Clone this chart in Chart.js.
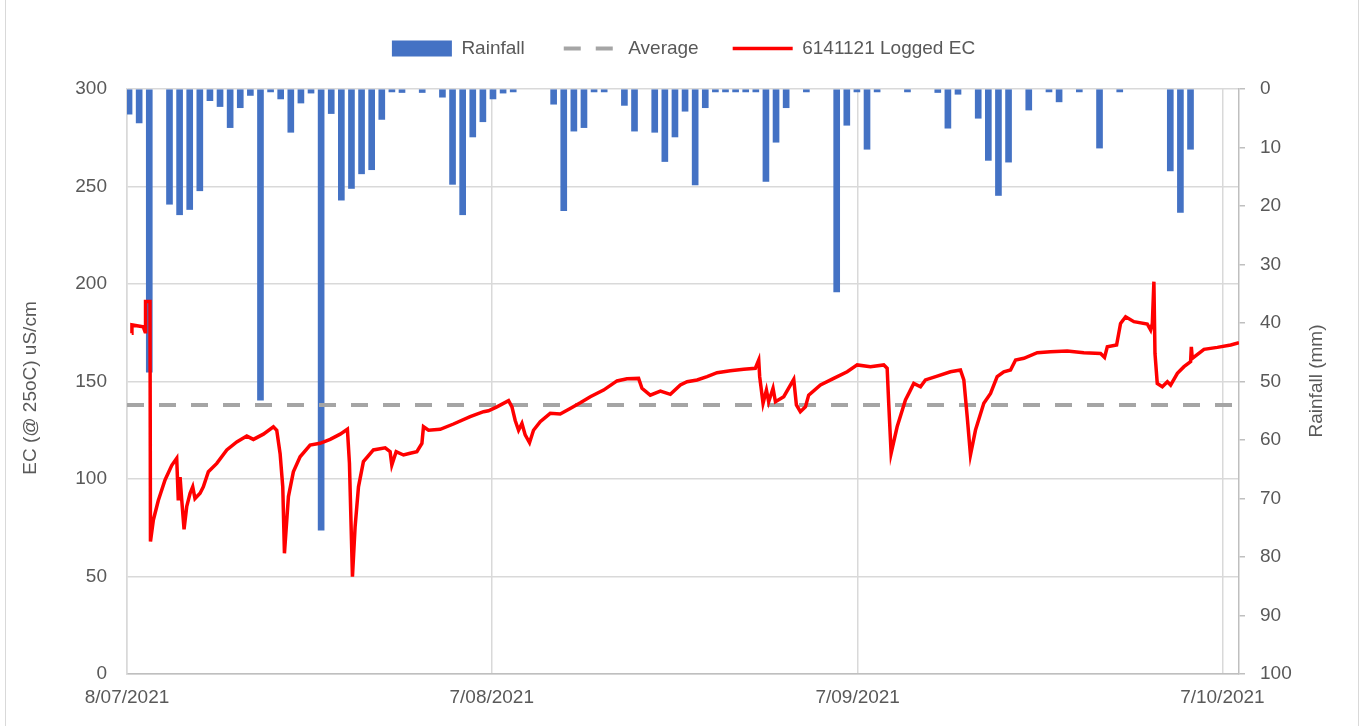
<!DOCTYPE html>
<html>
<head>
<meta charset="utf-8">
<title>Rainfall and Logged EC</title>
<script src="https://cdn.jsdelivr.net/npm/chart.js@4.4.0/dist/chart.umd.min.js"></script>
<style>
  html, body { margin: 0; padding: 0; background: #fff; }
  #wrap { width: 1367px; height: 726px; }
</style>
</head>
<body>
<div id="wrap"><canvas id="ecChart" width="1367" height="726"></canvas></div>
<script>
// x axis: days since 8/07/2021
const tickDays = [0, 30.3, 60.7, 91];
const tickLabels = ["8/07/2021", "7/08/2021", "7/09/2021", "7/10/2021"];
const xMax = 92.38;

// daily rainfall bars (mm), drawn on their own hidden category axis
const rainfall = [
  4.3, 5.8, 48.4, 0, 19.7, 21.5, 20.6, 17.4, 2.0, 3.0,
  6.6, 3.2, 1.1, 53.2, 0.5, 1.7, 7.4, 2.4, 0.7, 75.4,
  4.2, 19.0, 17.0, 14.5, 13.8, 5.2, 0.5, 0.6, 0, 0.6,
  0, 1.4, 16.3, 21.5, 8.2, 5.6, 1.7, 0.7, 0.5, 0,
  0, 0, 2.6, 20.8, 7.2, 6.6, 0.5, 0.5, 0, 2.8,
  7.2, 0, 7.4, 12.4, 8.2, 3.8, 16.4, 3.2, 0.5, 0.5,
  0.5, 0.5, 0.5, 15.8, 9.1, 3.2, 0, 0.5, 0, 0,
  34.7, 6.2, 0.5, 10.3, 0.5, 0, 0, 0.5, 0, 0,
  0.6, 6.7, 0.9, 0, 5.0, 12.2, 18.2, 12.5, 0, 3.6,
  0, 0.5, 2.2, 0, 0.5, 0, 10.1, 0, 0.5, 0,
  0, 0, 0, 14.0, 21.1, 10.3, 0, 0, 0, 0
];
const rainLabels = rainfall.map((v, i) => String(i + 1));

// average EC
const avgDays = [0, 92.38];
const avgValues = [138, 138];

// logged EC (uS/cm)
const ecDays = [
  0.39, 0.41, 1.35, 1.50, 1.54, 1.91, 1.95, 2.19, 2.60, 3.16,
  3.72, 4.13, 4.26, 4.41, 4.55, 4.74, 4.96, 5.24, 5.46, 5.65,
  6.07, 6.34, 6.76, 7.46, 8.29, 9.12, 9.95, 10.50, 11.33, 12.16,
  12.44, 12.72, 12.94, 13.08, 13.41, 13.82, 14.38, 15.21, 16.04, 16.88,
  17.71, 18.31, 18.48, 18.73, 18.95, 19.23, 19.64, 20.47, 21.45, 21.86,
  22.00, 22.36, 22.97, 23.52, 24.08, 24.50, 24.63, 25.05, 26.02, 27.12,
  28.51, 29.62, 30.03, 30.73, 31.70, 31.98, 32.25, 32.53, 32.81, 33.08,
  33.44, 33.77, 34.33, 35.16, 35.99, 36.82, 37.66, 38.49, 39.59, 40.71,
  41.54, 42.50, 42.78, 43.47, 44.31, 45.14, 45.97, 46.53, 47.36, 48.19,
  49.02, 50.12, 51.23, 52.20, 52.48, 52.56, 52.84, 53.12, 53.31, 53.67,
  53.87, 54.56, 55.39, 55.61, 55.94, 56.36, 56.63, 57.61, 58.71, 59.83,
  60.66, 61.76, 62.87, 63.15, 63.28, 63.48, 63.98, 64.67, 64.95, 65.36,
  65.92, 66.33, 67.31, 68.41, 69.24, 69.52, 69.80, 70.07, 70.49, 71.18,
  71.74, 72.29, 72.84, 73.40, 73.82, 74.51, 75.62, 76.72, 78.11, 79.49,
  80.88, 81.21, 81.44, 82.21, 82.54, 82.96, 83.65, 84.76, 85.04, 85.18,
  85.31, 85.40, 85.59, 86.01, 86.43, 86.70, 87.26, 87.81, 88.36, 88.42,
  88.50, 89.47, 90.58, 91.69, 92.38
];
const ecValues = [
  174.7, 179, 178, 175.5, 191, 191, 67.9, 79, 89, 99.5,
  107, 110.6, 89, 101, 89, 74.2, 85.8, 92.7, 96, 90,
  92.7, 96, 103.7, 108, 114.9, 119, 122, 120.3, 123, 126.8,
  125, 113, 96, 61.9, 91, 103.7, 111.4, 117.4, 118.3, 120.3,
  123, 125.5, 108, 49.9, 75.5, 96, 108.9, 114.9, 116, 114,
  107.2, 114, 112.3, 113.2, 114, 118.3, 126.8, 125, 125.5, 128.2,
  132, 134.5, 135, 137, 140.2, 137, 130, 125, 128.5, 122.6,
  118.6, 125, 129.4, 133.7, 133.3, 136.2, 139.1, 142.2, 145.6, 150.3,
  151.4, 151.6, 146.5, 143, 145.1, 143.4, 148.2, 149.9, 150.8, 152.5,
  154.5, 155.5, 156.3, 156.8, 161, 152.5, 138.8, 145.6, 139.6, 146.5,
  139.6, 142.2, 151.1, 138, 134.5, 137, 143, 148.2, 151.6, 155,
  158.5, 157.6, 158.5, 156.8, 138.8, 113.2, 126.8, 140.5, 143.9, 149,
  147.3, 150.8, 152.8, 155, 155.9, 150.8, 132, 112.3, 125.1, 138.8,
  143.9, 152.5, 155, 155.9, 161, 161.9, 164.8, 165.3, 165.6, 164.8,
  164.4, 162.4, 167.8, 168.7, 179.8, 183.2, 180.7, 179.5, 176.4, 179.8,
  201.2, 164.4, 149, 147.3, 149.9, 148.2, 154.2, 157.6, 160.2, 167.8,
  161.9, 166.5, 167.5, 168.7, 169.9
];

const TEXT = "#595959";
const GRID = "#d9d9d9";
const AXIS = "#bfbfbf";
const AVG_DASH = [17, 15];

Chart.defaults.font.family = '"Liberation Sans", Arial, sans-serif';
Chart.defaults.font.size = 19;
Chart.defaults.color = TEXT;

const toPoints = (xs, ys) => xs.map((x, i) => ({ x: x, y: ys[i] }));

// frame, legend height fix, dashed legend marker and axis titles
const decorations = {
  id: "decorations",
  beforeLayout(chart) {
    const lg = chart.legend;
    if (lg && !lg._fixedHeight) {
      const fit = lg.fit;
      lg.fit = function () {
        fit.call(this);
        this.height = 84;
      };
      lg._fixedHeight = true;
    }
  },
  beforeDraw(chart) {
    const ctx = chart.ctx;
    ctx.save();
    ctx.strokeStyle = GRID;
    ctx.lineWidth = 1;
    ctx.beginPath();
    ctx.moveTo(5.5, 0);
    ctx.lineTo(5.5, 726);
    ctx.moveTo(1358.5, 0);
    ctx.lineTo(1358.5, 726);
    ctx.stroke();
    ctx.restore();
  },
  afterDraw(chart) {
    const ctx = chart.ctx;

    // the built-in legend draws the Average marker solid; redraw it dashed
    const box = chart.legend && chart.legend.legendHitBoxes[1];
    if (box) {
      const y = box.top + box.height / 2;
      ctx.save();
      ctx.fillStyle = "#fff";
      ctx.fillRect(box.left - 1, y - 4, 62, 8);
      ctx.strokeStyle = "#A5A5A5";
      ctx.lineWidth = 4;
      ctx.setLineDash(AVG_DASH);
      ctx.beginPath();
      ctx.moveTo(box.left + 5, y);
      ctx.lineTo(box.left + 55, y);
      ctx.stroke();
      ctx.restore();
    }

    ctx.save();
    ctx.fillStyle = TEXT;
    ctx.font = '19px "Liberation Sans", Arial, sans-serif';
    ctx.textAlign = "center";
    ctx.textBaseline = "middle";

    ctx.save();
    ctx.translate(31, 388);
    ctx.rotate(-Math.PI / 2);
    ctx.fillText("EC (@ 25oC) uS/cm", 0, 0);
    ctx.restore();

    ctx.save();
    ctx.translate(1317, 381);
    ctx.rotate(-Math.PI / 2);
    ctx.fillText("Rainfall (mm)", 0, 0);
    ctx.restore();

    ctx.restore();
  },
};

new Chart(document.getElementById("ecChart"), {
  type: "bar",
  data: {
    datasets: [
      {
        label: "Rainfall",
        // dry days have no bar at all
        data: rainfall.map((v) => (v === 0 ? null : v)),
        xAxisID: "xBar",
        yAxisID: "yR",
        backgroundColor: "#4472C4",
        borderWidth: 0,
        barThickness: 6,
        order: 3,
      },
      {
        type: "line",
        label: "Average",
        data: toPoints(avgDays, avgValues),
        xAxisID: "x",
        yAxisID: "y",
        borderColor: "#A5A5A5",
        backgroundColor: "#A5A5A5",
        borderWidth: 4,
        borderDash: AVG_DASH,
        pointRadius: 0,
        fill: false,
        order: 2,
      },
      {
        type: "line",
        label: "6141121 Logged EC",
        data: toPoints(ecDays, ecValues),
        xAxisID: "x",
        yAxisID: "y",
        borderColor: "#FF0000",
        backgroundColor: "#FF0000",
        borderWidth: 3.5,
        pointRadius: 0,
        tension: 0,
        fill: false,
        order: 1,
      },
    ],
  },
  options: {
    responsive: false,
    animation: false,
    layout: { padding: { top: 5, left: 0, right: 0, bottom: 0 } },
    plugins: {
      tooltip: { enabled: false },
      legend: {
        position: "top",
        labels: {
          usePointStyle: true,
          pointStyleWidth: 60,
          boxHeight: 16,
          padding: 34,
          color: TEXT,
          font: { size: 19 },
          sort: (a, b) => a.datasetIndex - b.datasetIndex,
          generateLabels(chart) {
            const items = Chart.defaults.plugins.legend.labels.generateLabels(chart);
            items.forEach((it) => {
              it.pointStyle = it.datasetIndex === 0 ? "rect" : "line";
            });
            return items;
          },
        },
      },
    },
    scales: {
      x: {
        type: "linear",
        position: "bottom",
        min: 0,
        max: xMax,
        offset: false,
        afterFit: (s) => { s.height = 52; },
        afterBuildTicks: (s) => { s.ticks = tickDays.map((v) => ({ value: v })); },
        ticks: {
          padding: 12,
          maxRotation: 0,
          autoSkip: false,
          callback: (v) => {
            const i = tickDays.indexOf(v);
            return i >= 0 ? tickLabels[i] : "";
          },
        },
        grid: { color: GRID, lineWidth: 1.5, drawTicks: false, offset: false },
        border: { display: true, color: AXIS, width: 1.5 },
      },
      xBar: {
        type: "category",
        labels: rainLabels,
        offset: true,
        display: false,
      },
      y: {
        type: "linear",
        position: "left",
        min: 0,
        max: 300,
        afterFit: (s) => { s.width = 127; },
        ticks: { stepSize: 50, padding: 20 },
        grid: { color: GRID, lineWidth: 1.5, drawTicks: false },
        border: { display: true, color: GRID, width: 1.5 },
      },
      yR: {
        type: "linear",
        position: "right",
        min: 0,
        max: 100,
        reverse: true,
        afterFit: (s) => { s.width = 128; },
        ticks: { stepSize: 10, padding: 15 },
        grid: { drawOnChartArea: false, drawTicks: true, tickLength: 6, color: AXIS, lineWidth: 1.5 },
        border: { display: true, color: AXIS, width: 1.5 },
      },
    },
  },
  plugins: [decorations],
});
</script>
</body>
</html>
